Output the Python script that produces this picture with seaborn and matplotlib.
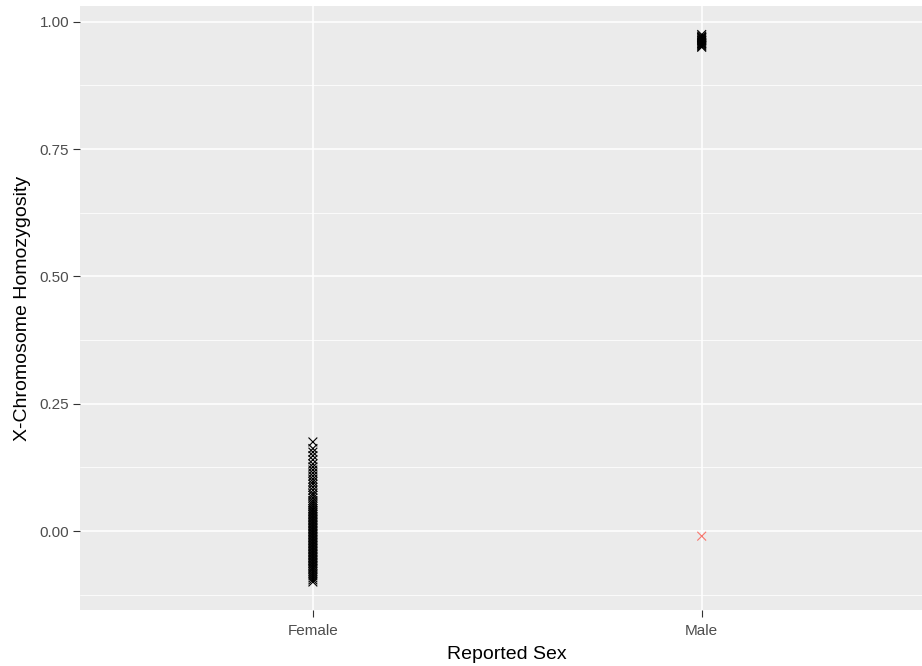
import matplotlib
matplotlib.use("Agg")
import matplotlib.pyplot as plt
import seaborn as sns
import pandas as pd
from matplotlib.ticker import MultipleLocator

# ---- data ----
female_vals = [0.175, 0.162, 0.155, 0.148, 0.140, 0.132, 0.126, 0.120, 0.114, 0.108,
               0.102, 0.097, 0.092, 0.086, 0.080, 0.074, 0.070, 0.065, 0.060, 0.056,
               0.052, 0.048, 0.044, 0.041, 0.038, 0.035, 0.032, 0.029, 0.026, 0.023,
               0.020, 0.017, 0.014, 0.011, 0.008, 0.005, 0.002, -0.001, -0.004, -0.007,
               -0.010, -0.013, -0.016, -0.019, -0.022, -0.025, -0.028, -0.031, -0.034,
               -0.037, -0.040, -0.043, -0.046, -0.049, -0.052, -0.055, -0.058, -0.061,
               -0.064, -0.067, -0.070, -0.073, -0.076, -0.080, -0.084, -0.088, -0.092,
               -0.096, -0.100]
male_vals = [0.975, 0.972, 0.970, 0.968, 0.966, 0.964, 0.962, 0.960, 0.958, 0.956,
             0.954, 0.952, 0.950, 0.969, 0.963, 0.957]
male_problem_vals = [-0.010]

categories = ["Female", "Male"]
y_ticks = [0.00, 0.25, 0.50, 0.75, 1.00]
y_ticklabels = ["0.00", "0.25", "0.50", "0.75", "1.00"]

df = pd.DataFrame({
    "sex": ["Female"] * len(female_vals) + ["Male"] * len(male_vals) + ["Male"] * len(male_problem_vals),
    "hom": female_vals + male_vals + male_problem_vals,
    "flag": ["ok"] * (len(female_vals) + len(male_vals)) + ["problem"] * len(male_problem_vals),
})
df["sex"] = pd.Categorical(df["sex"], categories=categories)

# ---- figure ----
sns.set_theme(style="darkgrid")
plt.rcParams["font.family"] = ["Liberation Sans", "DejaVu Sans"]
fig = plt.figure(figsize=(9.22, 6.66), dpi=100)
ax = fig.add_axes([79.6 / 922, 56 / 666, (935 - 79.6) / 922, (610 - 6) / 666])
ax.set_facecolor("#EBEBEB")

sns.scatterplot(data=df, x="sex", y="hom", hue="flag",
                palette={"ok": "black", "problem": "#F8766D"},
                marker="x", s=40, linewidth=0.8, legend=False, ax=ax, zorder=3)

ax.set_xlim(-0.6, 1.6)
ax.set_ylim(-0.155, 1.031)
ax.set_yticks(y_ticks)
ax.set_yticklabels(y_ticklabels)
ax.yaxis.set_minor_locator(MultipleLocator(0.125))
ax.set_xticks([0, 1])
ax.set_xticklabels(categories)

ax.grid(which="major", color="white", linewidth=1.1)
ax.grid(which="minor", axis="y", color="white", linewidth=0.55)
ax.grid(which="minor", axis="x", visible=False)
ax.set_axisbelow(True)
for sp in ax.spines.values():
    sp.set_visible(False)

ax.tick_params(axis="both", which="major", length=5, width=0.8, color="#333333",
               labelcolor="#4D4D4D", labelsize=11, pad=2.5, left=True, bottom=True)
ax.tick_params(axis="x", which="major", pad=5)
ax.tick_params(axis="both", which="minor", length=0)

ax.set_xlabel("Reported Sex", fontsize=14, color="black", labelpad=6)
ax.set_ylabel("X-Chromosome Homozygosity", fontsize=14, color="black", labelpad=6)

fig.savefig("out.png", dpi=100, facecolor="white")
